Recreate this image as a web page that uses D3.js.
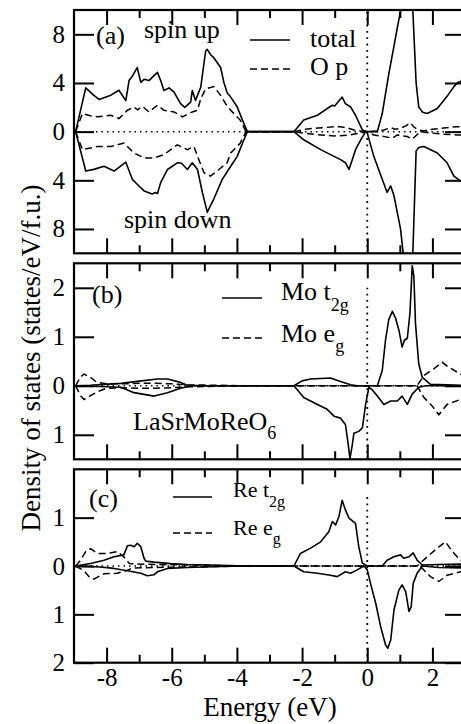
<!DOCTYPE html>
<html>
<head>
<meta charset="utf-8">
<script src="https://cdn.jsdelivr.net/npm/d3@7"></script>
<style>
  body { margin: 0; background: #fff; }
</style>
</head>
<body>
<div id="chart"></div>
<script>
// DOS curves, [energy (eV), states/eV/f.u.]; spin down stored as negative values

// (a) total and O p
const aTotalUp = [[-8.95,0],[-8.64,3.6],[-8.4,3.0],[-8.23,2.65],[-7.87,3.0],[-7.62,3.4],[-7.41,2.55],[-7.31,4.2],[-7.2,4.6],[-7.06,5.27],[-6.95,4.05],[-6.85,4.3],[-6.7,4.2],[-6.44,4.87],[-6.34,4.2],[-6.24,3.38],[-6.08,3.6],[-5.93,3.25],[-5.73,2.3],[-5.6,2.0],[-5.42,2.43],[-5.37,3.38],[-5.27,2.57],[-5.11,3.65],[-4.96,6.63],[-4.91,6.76],[-4.8,6.3],[-4.71,6.08],[-4.5,5.27],[-4.4,4.05],[-4.3,3.2],[-4.19,2.84],[-3.99,2.03],[-3.83,0.95],[-3.68,0],
  [-2.25,0],[-1.95,0.95],[-1.53,1.35],[-1.23,1.9],[-1.07,2.17],[-1.0,2.1],[-0.77,2.84],[-0.67,2.3],[-0.51,2.03],[-0.36,1.35],[-0.15,0.14],[0,0],[0.31,0],[0.46,1.49],[0.66,4.73],[0.82,7.03],[0.92,8.5],[1.02,9.9],[1.2,13],[1.4,9.9],[1.5,4],[1.58,2.03],[1.7,1.6],[1.84,1.49],[2.15,1.9],[2.45,2.9],[2.66,3.7],[2.8,4.1],[2.86,4.0],[2.9,4.3],[3.0,4.4]];
const aTotalDn = [[-8.95,0],[-8.64,-3.24],[-8.39,-3.1],[-8.08,-2.84],[-7.77,-3.24],[-7.41,-2.51],[-7.21,-3.92],[-7.06,-4.32],[-6.85,-4.87],[-6.6,-5.13],[-6.5,-5.0],[-6.44,-5.1],[-6.34,-4.19],[-6.13,-3.11],[-5.83,-2.56],[-5.7,-2.6],[-5.52,-3.11],[-5.37,-2.56],[-5.21,-3.11],[-5.06,-5.0],[-4.91,-6.62],[-4.71,-5.54],[-4.45,-3.92],[-4.3,-3.3],[-4.19,-2.84],[-3.99,-2.03],[-3.83,-0.95],[-3.68,0],
  [-2.25,0],[-1.95,-0.67],[-1.43,-1.48],[-1.02,-2.03],[-0.82,-2.3],[-0.67,-2.56],[-0.56,-3.11],[-0.46,-2.3],[-0.36,-1.48],[-0.2,-0.67],[-0.05,0],[0,-0.1],[0.2,-2.03],[0.46,-3.92],[0.61,-5.0],[0.72,-4.46],[0.82,-5.27],[0.92,-6.62],[1.02,-7.97],[1.1,-9.9],[1.25,-13],[1.4,-9.9],[1.5,-1.6],[1.58,-1.3],[1.74,-1.22],[2.15,-1.75],[2.45,-2.56],[2.66,-3.65],[2.86,-4.05],[3.0,-4.2]];
const aOpUp = [[-8.95,0],[-8.74,1.49],[-8.5,1.3],[-8.28,1.22],[-7.87,1.35],[-7.62,1.08],[-7.36,1.76],[-7.16,2.03],[-7.05,1.8],[-6.9,2.08],[-6.7,1.62],[-6.44,2.17],[-6.24,1.76],[-5.93,1.62],[-5.67,1.22],[-5.37,1.62],[-5.21,1.76],[-5.11,2.71],[-4.96,3.52],[-4.71,3.71],[-4.5,2.98],[-4.35,2.3],[-4.19,1.76],[-3.9,0.95],[-3.72,0],
  [-2.25,0],[-1.9,0.2],[-1.5,0.3],[-1.0,0.4],[-0.82,0.4],[-0.6,0.3],[-0.41,0.14],[-0.2,0.05],[0,0],[0.3,0.05],[0.51,0.14],[0.72,0.33],[0.85,0.2],[1.02,0.27],[1.2,0.5],[1.33,0.73],[1.42,0.4],[1.6,0.1],[1.74,0.08],[2.0,0.2],[2.25,0.27],[2.5,0.35],[2.76,0.4],[3.0,0.42]];
const aOpDn = [[-8.95,0],[-8.74,-1.48],[-8.28,-1.22],[-7.87,-1.22],[-7.47,-0.94],[-7.16,-1.75],[-6.85,-2.16],[-6.54,-2.16],[-6.24,-1.89],[-5.83,-1.08],[-5.52,-1.48],[-5.32,-1.22],[-5.17,-2.3],[-5.01,-3.38],[-4.81,-3.65],[-4.55,-3.11],[-4.3,-2.56],[-4.19,-1.75],[-3.9,-0.95],[-3.72,0],
  [-2.25,0],[-1.9,-0.15],[-1.5,-0.25],[-1.0,-0.35],[-0.6,-0.3],[-0.3,-0.15],[0,0],[0.2,-0.27],[0.51,-0.4],[0.77,-0.54],[0.92,-0.27],[1.23,-0.4],[1.38,-0.62],[1.63,0],[2.0,-0.12],[2.25,-0.19],[2.76,-0.27],[3.0,-0.3]];

// (b) Mo t2g and Mo eg
const bT2gUp = [[-8.95,0],[-8.5,0.01],[-8.08,0.03],[-7.56,0.05],[-7.06,0.09],[-6.44,0.14],[-6.13,0.14],[-5.73,0.07],[-5.52,0.01],[-5.0,0],[-2.25,0],[-2.0,0.1],[-1.74,0.14],[-1.13,0.16],[-0.82,0.09],[-0.51,0.02],[-0.3,0],[0.31,0],[0.46,0.31],[0.56,0.93],[0.66,1.35],[0.77,1.52],[0.87,1.38],[0.97,1.14],[1.07,0.79],[1.14,0.93],[1.23,0.97],[1.31,1.48],[1.38,2.45],[1.43,2.24],[1.48,1.28],[1.58,0.45],[1.69,0.17],[1.94,0.03],[2.45,0.02],[3.0,0.01]];
const bT2gDn = [[-8.95,0],[-8.5,-0.01],[-7.97,-0.02],[-7.56,-0.03],[-7.16,-0.14],[-6.54,-0.21],[-6.13,-0.14],[-5.73,-0.05],[-5.4,0],[-2.25,0],[-1.95,-0.24],[-1.53,-0.38],[-1.23,-0.48],[-1.02,-0.62],[-0.82,-0.66],[-0.67,-0.79],[-0.61,-1.07],[-0.53,-1.48],[-0.46,-1.21],[-0.41,-0.97],[-0.26,-0.93],[-0.15,-0.86],[-0.05,-0.38],[0.05,-0.03],[0.15,-0.08],[0.31,-0.21],[0.51,-0.38],[0.72,-0.31],[0.92,-0.31],[1.07,-0.21],[1.23,-0.38],[1.38,-0.17],[1.58,-0.03],[1.8,0],[3.0,0]];
const bEgUp = [[-8.95,0],[-8.8,0.18],[-8.69,0.24],[-8.49,0.17],[-8.3,0.07],[-8.0,0.04],[-7.5,0.04],[-7.0,0.05],[-6.5,0.05],[-6.0,0.04],[-5.5,0.02],[-4.5,0.01],[-3.7,0],[1.53,0],[1.74,0.21],[2.05,0.35],[2.3,0.48],[2.5,0.38],[2.86,0.24],[3.0,0.2]];
const bEgDn = [[-8.95,0],[-8.8,-0.2],[-8.69,-0.28],[-8.49,-0.2],[-8.28,-0.12],[-8.0,-0.05],[-7.5,-0.04],[-7.0,-0.05],[-6.5,-0.05],[-6.0,-0.04],[-5.5,-0.02],[-4.5,-0.01],[-3.7,0],[1.53,0],[1.74,-0.24],[1.99,-0.41],[2.2,-0.59],[2.45,-0.38],[2.86,-0.28],[3.0,-0.26]];

// (c) Re t2g and Re eg
const cT2gUp = [[-8.95,0],[-8.49,0.05],[-8.08,0.12],[-7.77,0.19],[-7.47,0.23],[-7.36,0.42],[-7.26,0.43],[-7.15,0.4],[-7.06,0.47],[-6.95,0.4],[-6.85,0.16],[-6.8,0.1],[-6.54,0.08],[-6.03,0.05],[-5.52,0.03],[-4.8,0.02],[-3.7,0],[-2.25,0],[-2.05,0.26],[-1.74,0.37],[-1.43,0.5],[-1.18,0.71],[-1.07,0.92],[-0.97,0.85],[-0.87,1.02],[-0.77,1.36],[-0.67,1.16],[-0.56,0.99],[-0.36,0.88],[-0.26,0.4],[-0.15,0.06],[0,0],[0.46,0],[0.61,0.12],[0.82,0.19],[1.02,0.23],[1.12,0.16],[1.28,0.19],[1.41,0.27],[1.53,0.12],[1.69,0.02],[2.2,0.03],[3.0,0.04]];
const cT2gDn = [[-8.95,0],[-8.2,-0.02],[-7.77,-0.05],[-7.36,-0.1],[-6.95,-0.15],[-6.75,-0.2],[-6.54,-0.18],[-6.44,-0.12],[-6.13,-0.05],[-5.52,-0.03],[-4.5,-0.01],[-3.7,0],[-2.25,0],[-1.95,-0.12],[-1.53,-0.15],[-1.13,-0.19],[-0.92,-0.22],[-0.67,-0.12],[-0.51,-0.15],[-0.31,-0.08],[-0.1,0],[0,-0.08],[0.1,-0.36],[0.26,-0.77],[0.41,-1.25],[0.56,-1.63],[0.63,-1.7],[0.72,-1.53],[0.82,-0.91],[0.97,-0.5],[1.07,-0.39],[1.18,-0.53],[1.28,-0.94],[1.35,-0.84],[1.41,-0.36],[1.53,-0.15],[1.69,0],[2.2,-0.03],[3.0,-0.04]];
const cEgUp = [[-8.95,0],[-8.8,0.12],[-8.64,0.3],[-8.49,0.36],[-8.28,0.26],[-7.97,0.26],[-7.67,0.3],[-7.47,0.19],[-7.3,0.05],[-6.5,0.03],[-5.5,0.02],[-3.7,0],[1.53,0],[1.84,0.19],[2.15,0.37],[2.4,0.5],[2.61,0.3],[2.86,0.12],[3.0,0.08]];
const cEgDn = [[-8.95,0],[-8.69,-0.1],[-8.54,-0.22],[-8.39,-0.27],[-8.08,-0.16],[-7.67,-0.15],[-7.4,-0.1],[-7.2,-0.04],[-6.5,-0.03],[-5.5,-0.02],[-3.7,0],[1.6,0],[1.69,-0.05],[1.94,-0.22],[2.2,-0.32],[2.45,-0.19],[2.86,-0.12],[3.0,-0.1]];

// axis ranges and ticks
const energyDomain = [-9, 3];
const energyMajor = [-8, -6, -4, -2, 0, 2];
const energyMinor = [-7, -5, -3, -1, 1];
const aDomain = [-10, 10], aTicks = [8, 4, 0, -4, -8];
const bDomain = [-1.5, 2.5], bTicks = [2, 1, 0, -1];
const cDomain = [-2, 2], cTicks = [1, 0, -1, -2];

const width = 461, height = 724;
const left = 74, right = 465;
const serif = '"Liberation Serif", "Times New Roman", Times, serif';

const x = d3.scaleLinear().domain(energyDomain).range([left, right]);

const svg = d3.select("#chart").append("svg")
  .attr("width", width)
  .attr("height", height)
  .style("font-family", serif);

const panels = [
  { key: "a", domain: aDomain, ticks: aTicks, top: 10, bottom: 253.3,
    solid: [aTotalUp, aTotalDn], dashed: [aOpUp, aOpDn], fermi: [-10, 10] },
  { key: "b", domain: bDomain, ticks: bTicks, top: 263.3, bottom: 459.3,
    solid: [bT2gUp, bT2gDn], dashed: [bEgUp, bEgDn], fermi: [-1.5, 2] },
  { key: "c", domain: cDomain, ticks: cTicks, top: 469.3, bottom: 662.7,
    solid: [cT2gUp, cT2gDn], dashed: [cEgUp, cEgDn], fermi: [-2, 1.5] }
];

panels.forEach((p, i) => {
  const y = d3.scaleLinear().domain(p.domain).range([p.bottom, p.top]);
  const g = svg.append("g");

  g.append("clipPath").attr("id", "clip-" + p.key)
    .append("rect")
    .attr("x", left).attr("y", p.top)
    .attr("width", right - left).attr("height", p.bottom - p.top);

  const plot = g.append("g").attr("clip-path", `url(#clip-${p.key})`);

  // dotted zero line and Fermi level
  plot.append("line")
    .attr("x1", x(energyDomain[0])).attr("x2", x(energyDomain[1]))
    .attr("y1", y(0)).attr("y2", y(0))
    .attr("stroke", "#000").attr("stroke-width", 1.5)
    .attr("stroke-dasharray", "1.5,4");
  plot.append("line")
    .attr("x1", x(0)).attr("x2", x(0))
    .attr("y1", y(p.fermi[0])).attr("y2", y(p.fermi[1]))
    .attr("stroke", "#000").attr("stroke-width", 1.8)
    .attr("stroke-dasharray", "1.8,4.5");

  const line = d3.line().x(d => x(d[0])).y(d => y(d[1]));

  plot.selectAll(".dashed").data(p.dashed).enter().append("path")
    .attr("d", line)
    .attr("fill", "none").attr("stroke", "#000")
    .attr("stroke-width", 1.5).attr("stroke-dasharray", "7,4");

  plot.selectAll(".solid").data(p.solid).enter().append("path")
    .attr("d", line)
    .attr("fill", "none").attr("stroke", "#000")
    .attr("stroke-width", 1.6).attr("stroke-linejoin", "round");

  // ticks: y left (labelled) and right
  const yLeft = g.append("g").attr("transform", `translate(${left},0)`)
    .call(d3.axisLeft(y).tickValues(p.ticks).tickSize(-20).tickPadding(9)
      .tickFormat(d => Math.abs(d)));
  const yRight = g.append("g").attr("transform", `translate(${right},0)`)
    .call(d3.axisRight(y).tickValues(p.ticks).tickSize(-20).tickFormat(""));

  // ticks: x top and bottom, major and minor
  const xTopMaj = g.append("g").attr("transform", `translate(0,${p.top})`)
    .call(d3.axisTop(x).tickValues(energyMajor).tickSize(-15).tickFormat(""));
  const xTopMin = g.append("g").attr("transform", `translate(0,${p.top})`)
    .call(d3.axisTop(x).tickValues(energyMinor).tickSize(-8).tickFormat(""));
  const xBotMaj = g.append("g").attr("transform", `translate(0,${p.bottom})`)
    .call(d3.axisBottom(x).tickValues(energyMajor).tickSize(-15)
      .tickFormat(i === 2 ? (d => d < 0 ? "-" + Math.abs(d) : d) : ""));
  const xBotMin = g.append("g").attr("transform", `translate(0,${p.bottom})`)
    .call(d3.axisBottom(x).tickValues(energyMinor).tickSize(-8).tickFormat(""));

  [yLeft, yRight, xTopMaj, xTopMin, xBotMaj, xBotMin].forEach(ax => {
    ax.attr("font-family", null);
    ax.select(".domain").remove();
    ax.selectAll(".tick line").attr("stroke", "#000").attr("stroke-width", 2);
    ax.selectAll("text").attr("font-size", 25).attr("fill", "#000");
  });
  xBotMaj.selectAll("text").attr("y", 6).attr("dy", "0.71em");

  // frame
  g.append("rect")
    .attr("x", left).attr("y", p.top)
    .attr("width", right - left).attr("height", p.bottom - p.top)
    .attr("fill", "none").attr("stroke", "#000").attr("stroke-width", 2.2);
});

// labels
const fs = 26;

// panel (a)
svg.append("text").attr("x", 96).attr("y", 44).attr("font-size", fs).text("(a)");
svg.append("text").attr("x", 144).attr("y", 38).attr("font-size", fs).text("spin up");
svg.append("text").attr("x", 124).attr("y", 228).attr("font-size", fs).text("spin down");
svg.append("line").attr("x1", 250).attr("x2", 290).attr("y1", 40).attr("y2", 40)
  .attr("stroke", "#000").attr("stroke-width", 1.6);
svg.append("text").attr("x", 310).attr("y", 47).attr("font-size", fs).text("total");
svg.append("line").attr("x1", 250).attr("x2", 290).attr("y1", 69).attr("y2", 69)
  .attr("stroke", "#000").attr("stroke-width", 1.6).attr("stroke-dasharray", "7,4");
svg.append("text").attr("x", 310).attr("y", 75).attr("font-size", fs).text("O p");

// panel (b)
svg.append("text").attr("x", 92).attr("y", 303).attr("font-size", fs).text("(b)");
svg.append("line").attr("x1", 222).attr("x2", 262).attr("y1", 298).attr("y2", 298)
  .attr("stroke", "#000").attr("stroke-width", 1.6);
const tb1 = svg.append("text").attr("x", 281).attr("y", 300).attr("font-size", fs);
tb1.append("tspan").text("Mo t");
tb1.append("tspan").attr("dy", 11).attr("font-size", 18).text("2g");
svg.append("line").attr("x1", 222).attr("x2", 262).attr("y1", 338).attr("y2", 338)
  .attr("stroke", "#000").attr("stroke-width", 1.6).attr("stroke-dasharray", "7,4");
const tb2 = svg.append("text").attr("x", 281).attr("y", 342).attr("font-size", fs);
tb2.append("tspan").text("Mo e");
tb2.append("tspan").attr("dy", 10).attr("font-size", 18).text("g");
const tb3 = svg.append("text").attr("x", 133).attr("y", 430).attr("font-size", fs);
tb3.append("tspan").text("LaSrMoReO");
tb3.append("tspan").attr("dy", 9).attr("font-size", 18).text("6");

// panel (c)
svg.append("text").attr("x", 89).attr("y", 507).attr("font-size", fs).text("(c)");
svg.append("line").attr("x1", 173).attr("x2", 212).attr("y1", 497).attr("y2", 497)
  .attr("stroke", "#000").attr("stroke-width", 1.6);
const tc1 = svg.append("text").attr("x", 233).attr("y", 497).attr("font-size", 22);
tc1.append("tspan").text("Re t");
tc1.append("tspan").attr("dy", 10).attr("font-size", 16).text("2g");
svg.append("line").attr("x1", 173).attr("x2", 212).attr("y1", 533).attr("y2", 533)
  .attr("stroke", "#000").attr("stroke-width", 1.6).attr("stroke-dasharray", "7,4");
const tc2 = svg.append("text").attr("x", 233).attr("y", 535).attr("font-size", 22);
tc2.append("tspan").text("Re e");
tc2.append("tspan").attr("dy", 9).attr("font-size", 16).text("g");

// axis titles
svg.append("text").attr("x", 270).attr("y", 716).attr("text-anchor", "middle")
  .attr("font-size", 27).text("Energy (eV)");
svg.append("text")
  .attr("transform", "translate(40,358) rotate(-90)")
  .attr("text-anchor", "middle").attr("font-size", 27)
  .text("Density of states (states/eV/f.u.)");

svg.selectAll("text").style("font-family", serif).attr("fill", "#000");
</script>
</body>
</html>
